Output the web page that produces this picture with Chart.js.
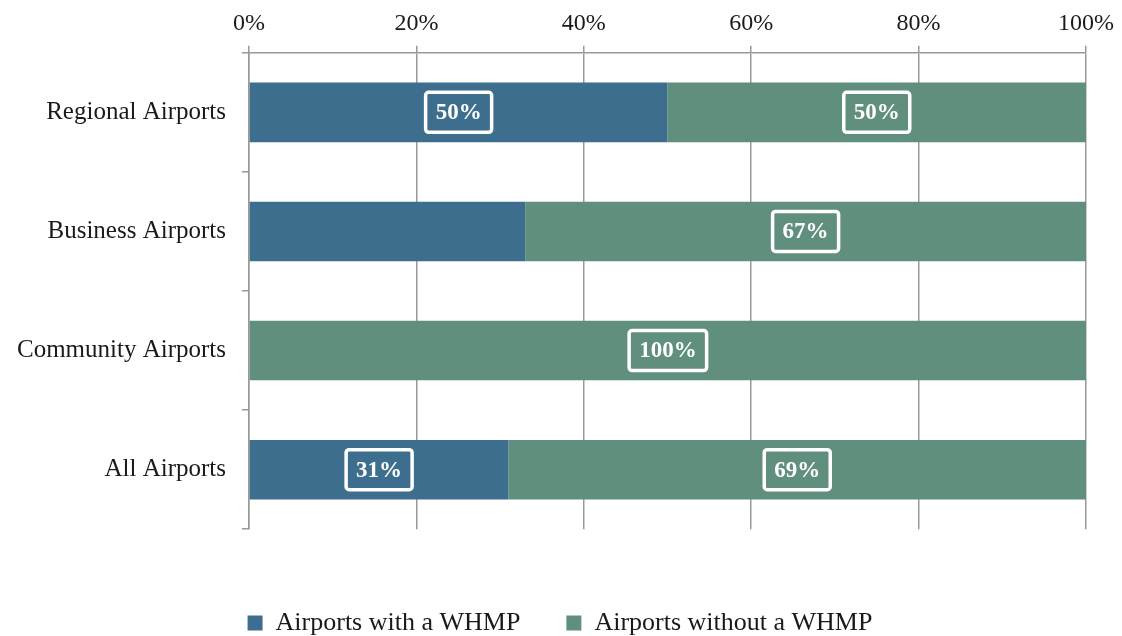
<!DOCTYPE html>
<html lang="en">
<head>
    <meta charset="UTF-8">
    <title>Airports with a WHMP</title>
    <style>
        html, body {
            margin: 0;
            padding: 0;
            background: #ffffff;
        }
        .wrap {
            width: 1122px;
            height: 636px;
        }
    </style>
</head>
<body>
    <div class="wrap">
        <canvas id="chart" width="1122" height="636"></canvas>
    </div>

    <script src="https://cdn.jsdelivr.net/npm/chart.js"></script>
    <script>
        // data
        const categories = ['Regional Airports', 'Business Airports', 'Community Airports', 'All Airports'];
        const withWhmp = [50, 33, 0, 31];
        const withoutWhmp = [50, 67, 100, 69];
        // value labels shown in the boxes (empty = no box)
        const withLabels = ['50%', '', '', '31%'];
        const withoutLabels = ['50%', '67%', '100%', '69%'];
        const xTicks = [0, 20, 40, 60, 80, 100];

        const serif = '"Liberation Serif", "DejaVu Serif", serif';
        const gridGray = '#999999';

        // white outlined boxes with the percentages
        const boxLabels = {
            id: 'boxLabels',
            afterDatasetsDraw(chart) {
                const ctx = chart.ctx;
                ctx.save();
                ctx.font = 'bold 23px ' + serif;
                ctx.textAlign = 'center';
                ctx.textBaseline = 'middle';
                chart.data.datasets.forEach((ds, di) => {
                    const meta = chart.getDatasetMeta(di);
                    meta.data.forEach((bar, i) => {
                        const txt = ds.boxLabels[i];
                        if (!txt) return;
                        const p = bar.getCenterPoint();
                        const w = ctx.measureText(txt).width + 20;
                        const h = 40;
                        ctx.lineWidth = 3.5;
                        ctx.strokeStyle = '#ffffff';
                        ctx.beginPath();
                        ctx.roundRect(p.x - w / 2, p.y - h / 2, w, h, 3);
                        ctx.stroke();
                        ctx.fillStyle = '#ffffff';
                        ctx.fillText(txt, p.x, p.y + 1);
                    });
                });
                ctx.restore();
            }
        };

        new Chart(document.getElementById('chart').getContext('2d'), {
            type: 'bar',
            data: {
                labels: categories,
                datasets: [{
                    label: 'Airports with a WHMP',
                    data: withWhmp,
                    boxLabels: withLabels,
                    backgroundColor: '#3d6e8e',
                    barPercentage: 0.5,
                    categoryPercentage: 1.0
                }, {
                    label: 'Airports without a WHMP',
                    data: withoutWhmp,
                    boxLabels: withoutLabels,
                    backgroundColor: '#608f7e',
                    barPercentage: 0.5,
                    categoryPercentage: 1.0
                }]
            },
            options: {
                indexAxis: 'y',
                responsive: false,
                animation: false,
                layout: {
                    padding: { top: 1, right: 6, left: 4, bottom: -10 }
                },
                scales: {
                    x: {
                        position: 'top',
                        stacked: true,
                        min: 0,
                        max: 100,
                        afterBuildTicks: axis => {
                            axis.ticks = xTicks.map(v => ({ value: v }));
                        },
                        border: { color: gridGray, width: 1.5 },
                        grid: {
                            color: gridGray,
                            lineWidth: 1.5,
                            drawTicks: true,
                            tickLength: 7
                        },
                        ticks: {
                            callback: v => v + '%',
                            color: '#1a1a1a',
                            padding: 8,
                            maxRotation: 0,
                            font: { family: serif, size: 24 }
                        }
                    },
                    y: {
                        stacked: true,
                        afterFit: axis => {
                            axis.width = 245;
                        },
                        border: { color: gridGray, width: 1.5 },
                        grid: {
                            color: gridGray,
                            lineWidth: 1.5,
                            offset: true,
                            drawOnChartArea: false,
                            drawTicks: true,
                            tickLength: 7
                        },
                        ticks: {
                            color: '#1a1a1a',
                            padding: 16,
                            font: { family: serif, size: 25 }
                        }
                    }
                },
                plugins: {
                    tooltip: { enabled: false },
                    legend: {
                        position: 'bottom',
                        title: {
                            display: true,
                            text: ' ',
                            padding: { top: 30, bottom: 0 },
                            font: { size: 4 }
                        },
                        labels: {
                            boxWidth: 15,
                            boxHeight: 15,
                            padding: 46,
                            color: '#1a1a1a',
                            font: { family: serif, size: 26 }
                        }
                    }
                }
            },
            plugins: [boxLabels]
        });
    </script>
</body>
</html>
